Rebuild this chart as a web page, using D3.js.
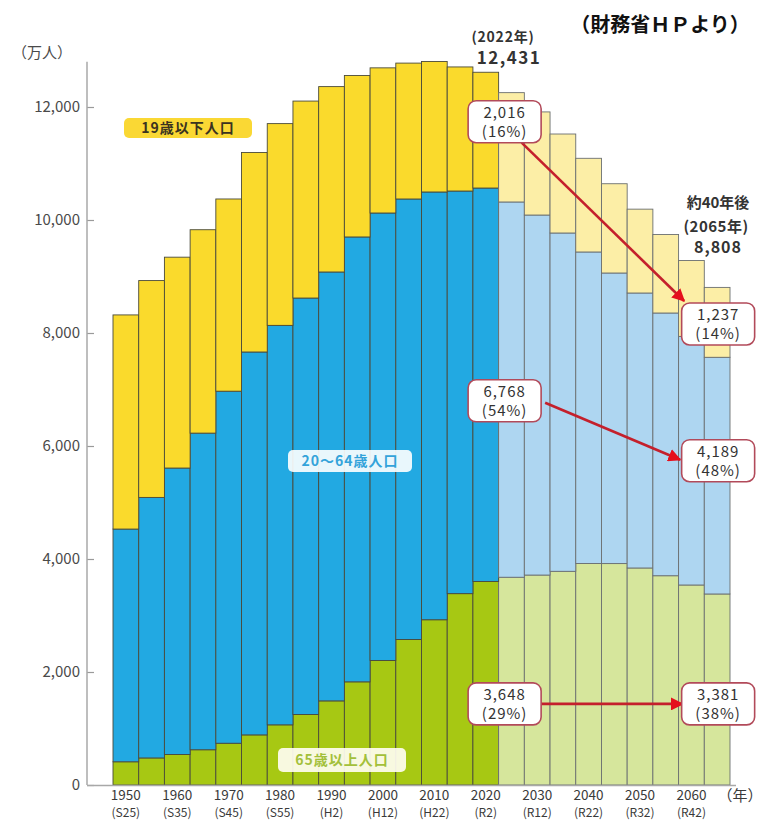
<!DOCTYPE html>
<html><head><meta charset="utf-8">
<script src="https://cdn.jsdelivr.net/npm/d3@7"></script>
<style>
html,body{margin:0;padding:0;background:#fff;}
svg{display:block;}
text{font-family:"Noto Sans CJK JP","Noto Sans",sans-serif;}
</style></head>
<body>
<svg id="chart" width="763" height="822"></svg>
<script>
// ---- data (万人) ----
const years = [1950,1955,1960,1965,1970,1975,1980,1985,1990,1995,2000,2005,2010,2015,2020,
               2025,2030,2035,2040,2045,2050,2055,2060,2065];
const under19  = [3790,3838,3732,3600,3402,3530,3571,3486,3281,2857,2569,2405,2310,2196,2049,
                  1935,1825,1752,1658,1580,1484,1390,1344,1237];
const age20to64 = [4119,4611,5070,5604,6231,6777,7070,7372,7591,7874,7920,7796,7571,7126,6963,
                  6642,6372,5988,5513,5143,4867,4650,4400,4189];
const over65   = [411,479,540,624,739,887,1065,1247,1489,1826,2204,2576,2925,3387,3603,
                  3677,3716,3782,3921,3919,3841,3704,3540,3381];
const projectedFrom = 2025;
const xTickYears = [1950,1960,1970,1980,1990,2000,2010,2020,2030,2040,2050,2060];
const eraLabels  = ["(S25)","(S35)","(S45)","(S55)","(H2)","(H12)","(H22)","(R2)","(R12)","(R22)","(R32)","(R42)"];
const yTicks = [0,2000,4000,6000,8000,10000,12000];
const keys = ["over65","age20to64","under19"];
const seriesNames = {under19:"19歳以下人口", age20to64:"20～64歳人口", over65:"65歳以上人口"};
// annotation boxes: [line1, line2, value position]
const annLeft  = [["2,016","(16%)",11740],["6,768","(54%)",6800],["3,648","(29%)",1435]];
const annRight = [["1,237","(14%)",8160],["4,189","(48%)",5740],["3,381","(38%)",1435]];

// ---- scales ----
const svg = d3.select("#chart");
const x = d3.scaleBand().domain(years).range([113,730]).padding(0);
const y = d3.scaleLinear().domain([0,12000]).range([785,107]);

const colors = {
  actual:   {under19:"#FADA2C", age20to64:"#22A9E2", over65:"#A7C813"},
  projected:{under19:"#FCEEA6", age20to64:"#AED6F1", over65:"#D6E69C"}
};

const table = years.map((yr,i)=>({year:yr, under19:under19[i], age20to64:age20to64[i], over65:over65[i]}));
const stacked = d3.stack().keys(keys)(table);

// ---- bars ----
const gBars = svg.append("g");
stacked.forEach(s=>{
  gBars.selectAll(null).data(s).join("rect")
    .attr("x", d=>x(d.data.year))
    .attr("width", x.bandwidth())
    .attr("y", d=>y(d[1]))
    .attr("height", d=>y(d[0])-y(d[1]))
    .attr("fill", d=> d.data.year>=projectedFrom ? colors.projected[s.key] : colors.actual[s.key])
    .attr("stroke", d=> d.data.year>=projectedFrom ? "#6b6f70" : "#4a4a3a")
    .attr("stroke-width", 0.9);
});

// ---- axes ----
const yAxis = svg.append("g").attr("transform","translate(87,0)")
  .call(d3.axisLeft(y).tickValues(yTicks).tickFormat(d3.format(",")).tickSizeInner(-7).tickSizeOuter(0).tickPadding(7));
yAxis.select(".domain").remove();
yAxis.selectAll(".tick line").attr("stroke","#9a9a9a").attr("stroke-width",1.2);
yAxis.selectAll(".tick text").attr("font-size",15).attr("fill","#4a4a4a")
  .attr("font-family","'Open Sans','Noto Sans',sans-serif");
svg.append("line").attr("x1",87).attr("x2",87).attr("y1",y(0)).attr("y2",y(12800))
  .attr("stroke","#a8a8a8").attr("stroke-width",1.5);
svg.append("line").attr("x1",87).attr("x2",736).attr("y1",y(0)+0.5).attr("y2",y(0)+0.5)
  .attr("stroke","#a8a8a8").attr("stroke-width",1.5);
svg.append("text").attr("x",12).attr("y",58).text("（万人）").attr("font-size",15).attr("fill","#4a4a4a");

const gx = svg.append("g").attr("font-family","'Open Sans','Noto Sans',sans-serif").attr("fill","#3a3a3a");
xTickYears.forEach((yr,i)=>{
  const cx = x(yr)+x.bandwidth()/2;
  gx.append("text").attr("x",cx).attr("y",800).attr("text-anchor","middle").attr("font-size",13.5).text(yr);
  gx.append("text").attr("x",cx).attr("y",817).attr("text-anchor","middle").attr("font-size",12).text(eraLabels[i]);
});
svg.append("text").attr("x",740).attr("y",801).attr("text-anchor","middle").attr("font-size",15)
  .attr("fill","#3a3a3a").text("（年）");

// ---- series labels ----
function tag(cx, cy, w, h, txt, fill, color, opacity){
  svg.append("rect").attr("x",cx-w/2).attr("y",cy-h/2).attr("width",w).attr("height",h).attr("rx",5)
    .attr("fill",fill).attr("fill-opacity",opacity);
  svg.append("text").attr("x",cx).attr("y",cy+5).attr("text-anchor","middle").attr("font-size",14)
    .attr("font-weight","bold").attr("fill",color).attr("letter-spacing",1).text(txt);
}
tag(188, 128, 128, 20, seriesNames.under19, "#FAD834", "#3a3320", 1);
tag(350, 461, 124, 22, seriesNames.age20to64, "#ffffff", "#33a3da", 0.9);
tag(342, 760, 128, 24, seriesNames.over65, "#fffdf2", "#a3c03a", 0.92);

// ---- annotations ----
const defs = svg.append("defs");
defs.append("marker").attr("id","ah").attr("viewBox","0 0 10 10").attr("refX",9).attr("refY",5)
  .attr("markerWidth",5).attr("markerHeight",5).attr("orient","auto")
  .append("path").attr("d","M0,0 L10,5 L0,10 z").attr("fill","#e5101c");

const leftCx = x(2025)+6, rightCx = x(2065)+x.bandwidth()/2+1, bw = 73, bh = 42;
const numFont = "'Liberation Sans',Arial,sans-serif";
function box(cx, cy, l1, l2){
  svg.append("rect").attr("x",cx-bw/2).attr("y",cy-bh/2).attr("width",bw).attr("height",bh).attr("rx",8)
    .attr("fill","#fff").attr("stroke","#b24a5a").attr("stroke-width",1.6);
  svg.append("text").attr("x",cx).attr("y",cy-4).attr("text-anchor","middle").attr("font-size",15)
    .attr("letter-spacing",1).attr("fill","#333").attr("font-family",numFont).text(l1);
  svg.append("text").attr("x",cx).attr("y",cy+15).attr("text-anchor","middle").attr("font-size",15)
    .attr("letter-spacing",1).attr("fill","#333").attr("font-family",numFont).text(l2);
}
const arrowPts = [
  [[leftCx+17, y(annLeft[0][2])+bh/2], [rightCx-34, y(annRight[0][2])-23]],
  [[leftCx+bw/2+4, y(annLeft[1][2])+2], [rightCx-38, y(annRight[1][2])-1]],
  [[leftCx+bw/2, y(annLeft[2][2])], [rightCx-bw/2+1, y(annRight[2][2])]]
];
arrowPts.forEach(p=>{
  svg.append("line").attr("x1",p[0][0]).attr("y1",p[0][1]).attr("x2",p[1][0]).attr("y2",p[1][1])
    .attr("stroke","#c4202c").attr("stroke-width",2.6).attr("marker-end","url(#ah)");
});
annLeft.forEach(a=>box(leftCx, y(a[2]), a[0], a[1]));
annRight.forEach(a=>box(rightCx, y(a[2]), a[0], a[1]));

// ---- headline texts ----
const bold = (tx,ty,t,fs)=>svg.append("text").attr("x",tx).attr("y",ty).attr("text-anchor","middle")
  .attr("font-size",fs).attr("font-weight","bold").attr("fill","#333").text(t);
bold(503, 42, "(2022年)", 14).attr("letter-spacing",0.8);
bold(509, 64, "12,431", 17).attr("font-family",numFont).attr("letter-spacing",1.5);
bold(718, 208, "約40年後", 15);
bold(716, 232, "(2065年)", 15).attr("letter-spacing",0.5);
bold(718, 253, "8,808", 16).attr("font-family",numFont).attr("letter-spacing",1);
svg.append("text").attr("x",660).attr("y",32).attr("text-anchor","middle").attr("font-size",20)
  .attr("font-weight","bold").attr("fill","#111").text("（財務省ＨＰより）");
</script>
</body></html>
